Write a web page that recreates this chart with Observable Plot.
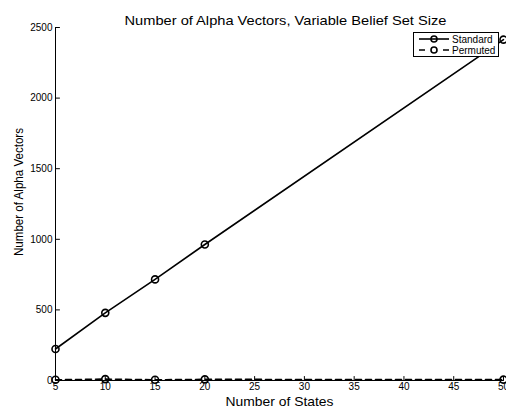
<!DOCTYPE html>
<html>
<head>
<meta charset="utf-8">
<script src="https://cdn.jsdelivr.net/npm/d3@7"></script>
<script src="https://cdn.jsdelivr.net/npm/@observablehq/plot@0.6"></script>
<style>
  html, body { margin: 0; padding: 0; background: #fff; }
  #wrap { position: relative; width: 506px; height: 413px; overflow: hidden; }
  #legend { position: absolute; left: 413px; top: 32px; }
  svg { font-family: "Liberation Sans", Arial, sans-serif; }
</style>
</head>
<body>
<div id="wrap"><div id="chart"></div><div id="legend"></div></div>
<script>
const states = [5, 10, 15, 20, 50];
const standard = [223, 479, 716, 963, 2414];
const permuted = [5, 10, 5, 8, 6];
const xTicks = [5, 10, 15, 20, 25, 30, 35, 40, 45, 50];
const yTicks = [0, 500, 1000, 1500, 2000, 2500];
const seriesNames = ["Standard", "Permuted"];
const titleText = "Number of Alpha Vectors, Variable Belief Set Size";
const xLabel = "Number of States";
const yLabel = "Number of Alpha Vectors";

const rows = [];
states.forEach((s, i) => {
  rows.push({series: seriesNames[0], x: s, y: standard[i]});
  rows.push({series: seriesNames[1], x: s, y: permuted[i]});
});
const stdRows = rows.filter(d => d.series === "Standard");
const perRows = rows.filter(d => d.series === "Permuted");

const tickShape = {draw(context, l) { context.moveTo(0, 0); context.lineTo(0, -l); }};

const chart = Plot.plot({
  width: 506,
  height: 413,
  marginLeft: 55,
  marginRight: 3,
  marginTop: 27,
  marginBottom: 33,
  style: {fontFamily: "Liberation Sans, Arial, sans-serif", fontSize: "10px", color: "#000", background: "#fff", overflow: "hidden"},
  x: {domain: [5, 50]},
  y: {domain: [0, 2500]},
  marks: [
    Plot.axisX({ticks: xTicks, tickSize: 0, tickPadding: 2, label: null, fontSize: 10}),
    Plot.axisY({ticks: yTicks, tickSize: 0, tickPadding: 3, label: null, fontSize: 10, tickFormat: d => String(d)}),
    Plot.vector(xTicks, {x: d => d, frameAnchor: "bottom", length: 4, rotate: 0, anchor: "start", shape: tickShape, stroke: "#000", strokeWidth: 1}),
    Plot.vector(yTicks, {y: d => d, frameAnchor: "left", length: 4, rotate: 90, anchor: "start", shape: tickShape, stroke: "#000", strokeWidth: 1}),
    Plot.ruleX([5], {stroke: "#000", strokeWidth: 1}),
    Plot.ruleY([0], {stroke: "#000", strokeWidth: 1}),
    Plot.line(stdRows, {x: "x", y: "y", stroke: "#000", strokeWidth: 1.6}),
    Plot.line(perRows, {x: "x", y: "y", stroke: "#000", strokeWidth: 1.6, strokeDasharray: "6,4"}),
    Plot.dot(rows, {x: "x", y: "y", r: 3.5, stroke: "#000", strokeWidth: 1.6, fill: "none"}),
    Plot.text([titleText], {frameAnchor: "top", dx: 6, dy: -12, fontSize: 13, text: d => d}),
    Plot.text([xLabel], {frameAnchor: "bottom", dy: 25, fontSize: 13, text: d => d}),
    Plot.text([yLabel], {frameAnchor: "left", textAnchor: "middle", dx: -37, dy: -12, rotate: -90, fontSize: 13, text: d => d})
  ]
});
document.getElementById("chart").appendChild(chart);
d3.select(chart).selectAll("text").each(function() {
  const t = this.textContent;
  const len = t === titleText ? 322 : t === xLabel ? 108 : t === yLabel ? 128 : null;
  if (len) d3.select(this).attr("textLength", len).attr("lengthAdjust", "spacingAndGlyphs");
});

// Legend
const lw = 86, lh = 25;
const lg = d3.select("#legend").append("svg")
  .attr("width", lw).attr("height", lh)
  .style("font-family", "Liberation Sans, Arial, sans-serif");
lg.append("rect").attr("x", 0.5).attr("y", 0.5).attr("width", lw - 1).attr("height", lh - 1)
  .attr("fill", "#fff").attr("stroke", "#000").attr("stroke-width", 1);
seriesNames.forEach((name, i) => {
  const cy = 7 + i * 11;
  lg.append("line").attr("x1", 6).attr("x2", 36).attr("y1", cy).attr("y2", cy)
    .attr("stroke", "#000").attr("stroke-width", 1.6)
    .attr("stroke-dasharray", i === 1 ? "6,6" : null);
  lg.append("circle").attr("cx", 21).attr("cy", cy).attr("r", 3)
    .attr("fill", i === 1 ? "#fff" : "none").attr("stroke", "#000").attr("stroke-width", 1.6);
  lg.append("text").attr("x", 39).attr("y", cy).attr("dy", "0.35em")
    .attr("font-size", 10).text(name);
});
</script>
</body>
</html>
